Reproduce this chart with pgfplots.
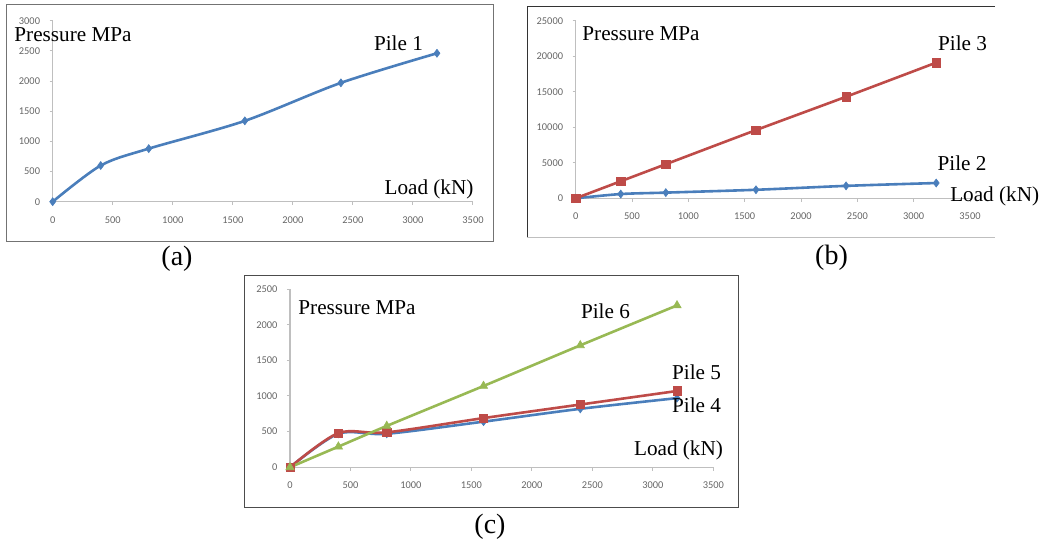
\documentclass[border=0pt]{standalone}
\usepackage{pgfplots}
\pgfplotsset{compat=1.18}
\usepackage{fontspec}
\setmainfont{Liberation Serif}
\newfontfamily\tickfont{Carlito}

\definecolor{xlblue}{HTML}{4A7EBB}
\definecolor{xlred}{HTML}{BE4B48}
\definecolor{xlgreen}{HTML}{98B954}
\definecolor{axisgray}{HTML}{BFBFBF}
\definecolor{ticktext}{HTML}{666666}

\pgfplotsset{
  pilechart/.style={
    scale only axis,
    anchor=south west,
    axis x line=bottom, axis y line=left,
    axis line style={axisgray, line width=0.6pt, -},
    xmin=0, xmax=3500, xtick={0,500,...,3500},
    ymin=0,
    tick align=outside, major tick length=1.6pt,
    tick style={axisgray, line width=0.5pt},
    tick label style={font=\tickfont\fontsize{5.2}{6}\selectfont, text=ticktext},
    /pgf/number format/assume math mode=true,
    /pgf/number format/1000 sep={},
    scaled y ticks=false,
    xticklabel style={yshift=-2.2pt},
    yticklabel style={xshift=-1.2pt},
    clip=false,
  },
  bluepile/.style={xlblue, line width=1.3pt, smooth, mark=diamond*, mark size=2.0pt,
    mark options={fill=xlblue, draw=xlblue, line width=0.3pt}},
  redpile/.style={xlred, line width=1.3pt, smooth, mark=square*, mark size=2.1pt,
    mark options={fill=xlred, draw=xlred, line width=0.3pt}},
  greenpile/.style={xlgreen, line width=1.3pt, smooth, mark=triangle*, mark size=2.4pt,
    mark options={fill=xlgreen, draw=xlgreen, line width=0.3pt}},
}

\newcommand{\lbl}{\fontsize{10.6}{12}\selectfont}
\newcommand{\sublbl}{\fontsize{14}{16}\selectfont}

\begin{document}
\begin{tikzpicture}
\useasboundingbox (0,0) rectangle (527pt,271.5pt);

% frames around the three panels
\draw[black!55, line width=0.5pt] (3pt,151pt) rectangle (246.5pt,269.5pt);
\draw[black!80, line width=0.5pt] (497.5pt,268.5pt) -- (263.5pt,268.5pt) -- (263.5pt,153pt);
\draw[black!25, line width=0.5pt] (263.5pt,153pt) -- (497.5pt,153pt);
\draw[black!70, line width=0.5pt] (122pt,18pt) rectangle (369pt,134pt);

% (a) Pile 1
\begin{axis}[pilechart, at={(26.35pt,170.65pt)}, width=210.15pt, height=90.5pt,
  ymax=3000, ytick={0,500,...,3000}]
\addplot[bluepile] coordinates {(0,0) (400,600) (800,880) (1600,1340) (2400,1970) (3200,2460)};
\end{axis}
\node[inner sep=0] at (36.5pt,254pt) {\lbl Pressure MPa};
\node[inner sep=0] at (199.25pt,250pt) {\lbl Pile 1};
\node[inner sep=0] at (214.5pt,177pt) {\lbl Load (kN)};
\node[inner sep=0] at (88.5pt,142pt) {\sublbl (a)};

% (b) Piles 2 and 3
\begin{axis}[pilechart, at={(287.85pt,172.35pt)}, width=197.15pt, height=88.8pt,
  ymax=25000, ytick={0,5000,...,25000}]
\addplot[bluepile] coordinates {(0,0) (400,600) (800,800) (1600,1200) (2400,1750) (3200,2150)};
\addplot[redpile] coordinates {(0,0) (400,2400) (800,4800) (1600,9600) (2400,14300) (3200,19100)};
\end{axis}
\node[inner sep=0] at (320.5pt,254.5pt) {\lbl Pressure MPa};
\node[inner sep=0] at (481.25pt,250pt) {\lbl Pile 3};
\node[inner sep=0] at (481pt,190pt) {\lbl Pile 2};
\node[inner sep=0] at (497.35pt,173.25pt) {\lbl Load (kN)};
\node[inner sep=0] at (415.75pt,142.5pt) {\sublbl (b)};

% (c) Piles 4, 5 and 6
\begin{axis}[pilechart, at={(145pt,37.85pt)}, width=211.65pt, height=89.15pt,
  ymax=2500, ytick={0,500,...,2500}]
\addplot[bluepile] coordinates {(0,0) (400,470) (800,470) (1600,640) (2400,820) (3200,970)};
\addplot[redpile] coordinates {(0,0) (400,480) (800,490) (1600,690) (2400,880) (3200,1070)};
\addplot[greenpile] coordinates {(0,0) (400,290) (800,580) (1600,1140) (2400,1710) (3200,2270)};
\end{axis}
\node[inner sep=0] at (178.5pt,117.5pt) {\lbl Pressure MPa};
\node[inner sep=0] at (302.75pt,116pt) {\lbl Pile 6};
\node[inner sep=0] at (348.25pt,85.5pt) {\lbl Pile 5};
\node[inner sep=0] at (348.25pt,68.75pt) {\lbl Pile 4};
\node[inner sep=0] at (339.25pt,46.5pt) {\lbl Load (kN)};
\node[inner sep=0] at (245pt,8pt) {\sublbl (c)};
\end{tikzpicture}
\end{document}
